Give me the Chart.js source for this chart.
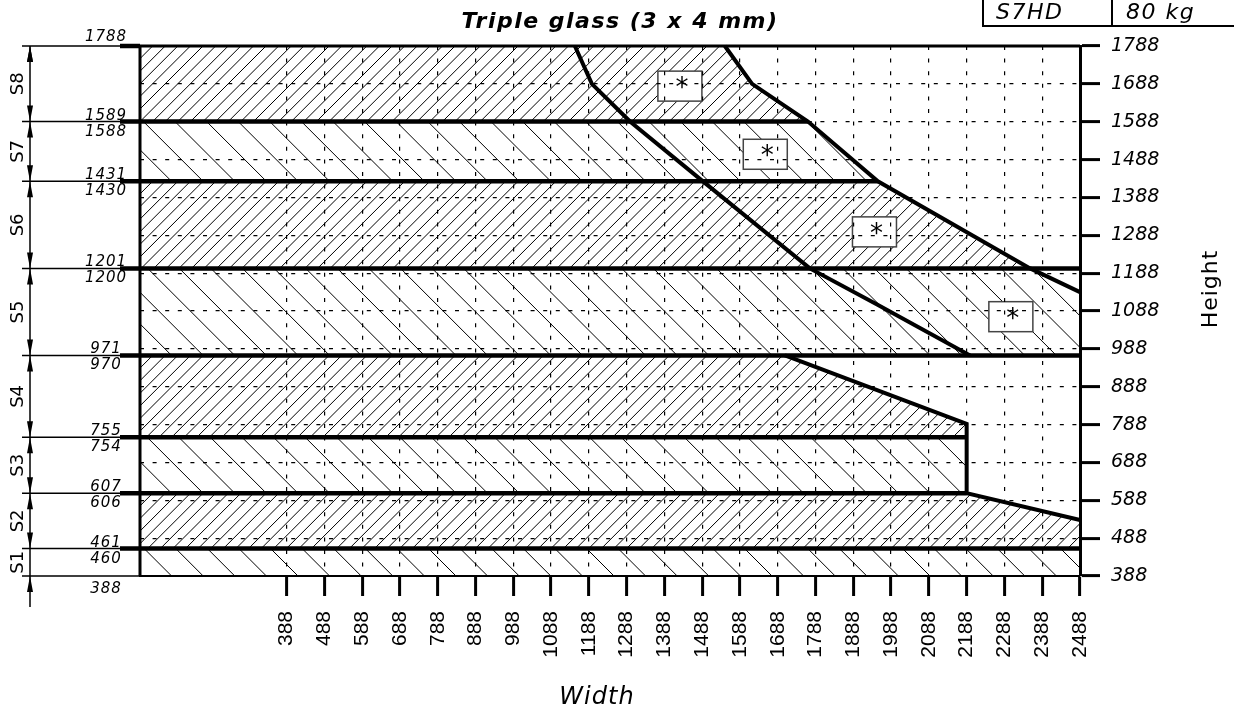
<!DOCTYPE html>
<html>
<head>
<meta charset="utf-8">
<title>Triple glass (3 x 4 mm)</title>
<script src="https://cdn.jsdelivr.net/npm/chart.js@4.4.1/dist/chart.umd.min.js"></script>
<style>
  html, body { margin: 0; padding: 0; background: #fff; }
</style>
</head>
<body>
<canvas id="chart" width="1234" height="711"></canvas>
<script>
// axis ticks
const widthTicks = [388, 488, 588, 688, 788, 888, 988, 1088, 1188, 1288, 1388, 1488, 1588, 1688, 1788, 1888, 1988, 2088, 2188, 2288, 2388, 2488];
const heightTicks = [388, 488, 588, 688, 788, 888, 988, 1088, 1188, 1288, 1388, 1488, 1588, 1688, 1788];

// profile bands, top to bottom
const bandNames = ['S8', 'S7', 'S6', 'S5', 'S4', 'S3', 'S2', 'S1'];
const bandFrom = [1589, 1431, 1201, 971, 755, 607, 461, 388];
const bandTo = [1788, 1588, 1430, 1200, 970, 754, 606, 460];
// width where the thick upper line of each band stops
const bandLineEnd = [2488, 1768, 1953, 2488, 2488, 2188, 2188, 2488];

// limit curves
const innerW = [1151, 1196, 1297, 1490, 1773, 1951, 2197];
const innerH = [1788, 1688, 1588.5, 1430.5, 1200.5, 1105, 970.5];
const outerW = [1548, 1620, 1768, 1953, 2356, 2488];
const outerH = [1788, 1688, 1588.5, 1430.5, 1200.5, 1138];
const lowerW = [1707, 2188, 2188, 2488];
const lowerH = [970.5, 790, 606.5, 536];

// right edge of the hatched area, top to bottom
const edgeW = [1548, 1620, 1768, 1953, 2356, 2488, 2488, 1707, 2188, 2188, 2488, 2488];
const edgeH = [1788, 1688, 1588.5, 1430.5, 1200.5, 1138, 970.5, 970.5, 790, 606.5, 536, 388];

// "*" note boxes
const noteW = [1429, 1655, 1944, 2305];
const noteH = [1682, 1502, 1297, 1073];

function bandEdge(i) {
    if (i >= bandNames.length) return heightTicks[0];
    return i === 0 ? bandTo[0] : (bandTo[i] + bandFrom[i - 1]) / 2;
}

const datasets = [];
bandNames.forEach((n, i) => {
    datasets.push({ data: [{ x: 0, y: bandEdge(i) }, { x: bandLineEnd[i], y: bandEdge(i) }], borderWidth: i === 0 ? 3 : 4.5 });
});
datasets.push({ data: [{ x: 0, y: heightTicks[0] }, { x: 0, y: bandTo[0] }], borderWidth: 3 });
datasets.push({ data: innerW.map((w, k) => ({ x: w, y: innerH[k] })), borderWidth: 4 });
datasets.push({ data: outerW.map((w, k) => ({ x: w, y: outerH[k] })), borderWidth: 4 });
datasets.push({ data: lowerW.map((w, k) => ({ x: w, y: lowerH[k] })), borderWidth: 4 });
datasets.forEach(d => Object.assign(d, {
    showLine: true, borderColor: '#000', pointRadius: 0, clip: false,
    borderCapStyle: 'butt', borderJoinStyle: 'miter', tension: 0
}));

const hatchPlugin = {
    id: 'hatch',
    beforeDraw(chart) {
        const { ctx, chartArea: a, scales: { x, y } } = chart;
        ctx.save();
        ctx.fillStyle = '#fff';
        ctx.fillRect(0, 0, chart.width, chart.height);

        bandNames.forEach((n, i) => {
            const top = y.getPixelForValue(bandEdge(i));
            const bottom = y.getPixelForValue(bandEdge(i + 1));
            ctx.save();
            ctx.beginPath();
            ctx.rect(a.left, top, a.right - a.left, bottom - top);
            ctx.clip();
            ctx.beginPath();
            ctx.moveTo(x.getPixelForValue(0), y.getPixelForValue(edgeH[0]));
            edgeW.forEach((w, k) => ctx.lineTo(x.getPixelForValue(w), y.getPixelForValue(edgeH[k])));
            ctx.lineTo(x.getPixelForValue(0), y.getPixelForValue(edgeH[edgeH.length - 1]));
            ctx.closePath();
            ctx.clip();

            const rising = i % 2 === 0;
            const step = rising ? 12.6 : 31.6;
            const h = bottom - top;
            ctx.beginPath();
            ctx.lineWidth = 1;
            ctx.strokeStyle = '#000';
            for (let c = a.left - h - step; c < a.right + step; c += step) {
                if (rising) { ctx.moveTo(c, bottom); ctx.lineTo(c + h, top); }
                else { ctx.moveTo(c, top); ctx.lineTo(c + h, bottom); }
            }
            ctx.stroke();
            ctx.restore();
        });

        noteW.forEach((w, k) => {
            const cx = x.getPixelForValue(w), cy = y.getPixelForValue(noteH[k]);
            ctx.fillStyle = '#fff';
            ctx.fillRect(cx - 22, cy - 15, 44, 30);
            ctx.strokeStyle = '#444';
            ctx.lineWidth = 1.5;
            ctx.strokeRect(cx - 22, cy - 15, 44, 30);
        });
        ctx.restore();
    },
    afterDraw(chart) {
        const { ctx, chartArea: a, scales: { x, y } } = chart;
        ctx.save();
        ctx.fillStyle = '#000';
        ctx.strokeStyle = '#000';

        // asterisks in the note boxes
        ctx.font = 'italic 26px "DejaVu Sans"';
        ctx.textAlign = 'center';
        ctx.textBaseline = 'alphabetic';
        noteW.forEach((w, k) => {
            ctx.fillText('*', x.getPixelForValue(w) + 2, y.getPixelForValue(noteH[k]) + 10);
        });

        // left dimension chain
        const dimX = 30;
        const yTop = y.getPixelForValue(bandEdge(0));
        const yBot = y.getPixelForValue(bandEdge(bandNames.length));
        ctx.lineWidth = 1.5;
        ctx.beginPath();
        ctx.moveTo(dimX, yTop);
        ctx.lineTo(dimX, yBot + 31);
        for (let i = 0; i <= bandNames.length; i++) {
            const py = y.getPixelForValue(bandEdge(i));
            ctx.moveTo(22, py);
            ctx.lineTo(a.left, py);
        }
        ctx.stroke();
        ctx.lineWidth = 4.5;
        ctx.beginPath();
        for (let i = 0; i < bandNames.length; i++) {
            const py = y.getPixelForValue(bandEdge(i));
            ctx.moveTo(120, py);
            ctx.lineTo(a.left, py);
        }
        ctx.stroke();

        const arrow = (tip, dir) => {
            ctx.beginPath();
            ctx.moveTo(dimX, tip);
            ctx.lineTo(dimX - 3, tip - dir * 16);
            ctx.lineTo(dimX + 3, tip - dir * 16);
            ctx.closePath();
            ctx.fill();
        };

        ctx.font = 'italic 15px "DejaVu Sans"';
        ctx.letterSpacing = '1px';
        ctx.textAlign = 'center';
        bandNames.forEach((n, i) => {
            const top = y.getPixelForValue(bandEdge(i));
            const bottom = y.getPixelForValue(bandEdge(i + 1));
            if (i < bandNames.length - 1) {
                arrow(top, -1);
                arrow(bottom, 1);
            } else {
                arrow(bottom, -1);
            }
            ctx.fillText(String(bandTo[i]), 106, i === 0 ? top - 5 : top + 14);
            ctx.fillText(String(bandFrom[i]), 106, i === bandNames.length - 1 ? bottom + 17 : bottom - 2);
        });
        arrow(yTop, -1);

        ctx.letterSpacing = '0px';
        ctx.font = '18px "DejaVu Sans"';
        ctx.textBaseline = 'middle';
        bandNames.forEach((n, i) => {
            const mid = (y.getPixelForValue(bandEdge(i)) + y.getPixelForValue(bandEdge(i + 1))) / 2;
            ctx.save();
            ctx.translate(18.5, mid);
            ctx.rotate(-Math.PI / 2);
            ctx.fillText(n, 0, 0);
            ctx.restore();
        });

        // title
        ctx.textBaseline = 'alphabetic';
        ctx.letterSpacing = '1.5px';
        ctx.font = 'italic bold 22px "DejaVu Sans"';
        ctx.fillText('Triple glass (3 x 4 mm)', 620, 28);

        // axis titles
        ctx.letterSpacing = '1px';
        ctx.font = 'italic 24px "DejaVu Sans"';
        ctx.fillText('Width', 597, 704);
        ctx.font = '22px "DejaVu Sans"';
        ctx.save();
        ctx.translate(1211, 289);
        ctx.rotate(-Math.PI / 2);
        ctx.textBaseline = 'middle';
        ctx.fillText('Height', 0, 0);
        ctx.restore();

        // model / weight box
        ctx.lineWidth = 2;
        ctx.beginPath();
        ctx.moveTo(983, 0); ctx.lineTo(983, 26); ctx.lineTo(chart.width, 26);
        ctx.moveTo(1112, 0); ctx.lineTo(1112, 26);
        ctx.stroke();
        ctx.letterSpacing = '1.5px';
        ctx.font = 'italic 22px "DejaVu Sans"';
        ctx.textAlign = 'left';
        ctx.fillText('S7HD', 996, 19);
        ctx.fillText('80 kg', 1126, 19);
        ctx.restore();
    }
};

const gridStyle = { color: '#000', lineWidth: 1.2, tickLength: 20, tickWidth: 3, tickColor: '#000', tickBorderDash: [] };

new Chart(document.getElementById('chart'), {
    type: 'scatter',
    data: { datasets },
    options: {
        responsive: false,
        animation: false,
        devicePixelRatio: 1,
        layout: { padding: { left: 140, top: 46, right: 0, bottom: 0 } },
        plugins: { legend: { display: false }, tooltip: { enabled: false } },
        scales: {
            x: {
                type: 'linear', position: 'bottom', min: 0, max: 2488,
                afterBuildTicks: s => { s.ticks = widthTicks.map(v => ({ value: v })); },
                afterFit: s => { s.height = 135; },
                grid: gridStyle,
                border: { display: true, color: '#000', width: 2, dash: [4, 8.6] },
                ticks: {
                    minRotation: 90, maxRotation: 90, autoSkip: false, padding: 15, color: '#000',
                    font: { family: 'Liberation Sans', size: 21 },
                    callback: v => String(v)
                }
            },
            y: {
                type: 'linear', position: 'right', min: 388, max: 1788,
                afterBuildTicks: s => { s.ticks = heightTicks.map(v => ({ value: v })); },
                afterFit: s => { s.width = 154; },
                grid: gridStyle,
                border: { display: true, color: '#000', width: 3, dash: [4, 8.6] },
                ticks: {
                    autoSkip: false, padding: 11, color: '#000',
                    font: { family: 'DejaVu Sans', size: 19, style: 'italic' },
                    callback: v => String(v)
                }
            }
        }
    },
    plugins: [hatchPlugin]
});
</script>
</body>
</html>
